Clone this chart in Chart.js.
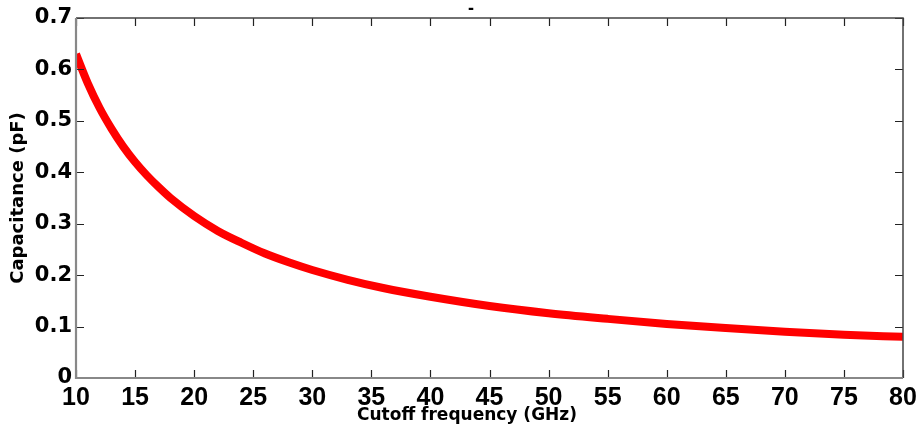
<!DOCTYPE html>
<html>
<head>
<meta charset="utf-8">
<script src="https://cdn.jsdelivr.net/npm/chart.js@4/dist/chart.umd.min.js"></script>
<style>
    body { margin: 0; background: #fff; }
    canvas { display: block; }
</style>
</head>
<body>
<canvas id="cap_chart" width="921" height="440"></canvas>
<script>
// cutoff frequency (GHz) and the matching capacitance (pF)
const freq_ghz = [10, 11, 12, 13, 14, 15, 16, 17, 18, 20, 22, 24, 26, 28, 30,
    33, 36, 40, 45, 50, 55, 60, 65, 70, 75, 80]
const cap_pf = [0.630, 0.573, 0.525, 0.485, 0.450, 0.420, 0.394, 0.371, 0.350,
    0.315, 0.286, 0.263, 0.242, 0.225, 0.210, 0.191, 0.175, 0.158, 0.140,
    0.126, 0.115, 0.105, 0.097, 0.090, 0.084, 0.080]

const PLOT_TITLE = '-'
const X_TITLE = 'Cutoff frequency (GHz)'
const Y_TITLE = 'Capacitance (pF)'

const SANS = '"Liberation Sans", Arial, sans-serif'
const WIDE = '"DejaVu Sans", Verdana, sans-serif'
const TICK_LEN = 8

// box around the plot with inward ticks on all four sides, plus the titles
const frame_plugin = {
    'id': 'frame',
    'afterDraw': function (chart) {
        let ctx = chart.ctx
        let a = chart.chartArea
        let x = chart.scales.x
        let y = chart.scales.y
        ctx.save()
        ctx.strokeStyle = '#222'
        ctx.lineWidth = 1.2
        ctx.beginPath()
        x.ticks.forEach(t => {
            let px = Math.round(x.getPixelForValue(t.value)) + 0.5
            ctx.moveTo(px, a.bottom); ctx.lineTo(px, a.bottom - TICK_LEN)
            ctx.moveTo(px, a.top); ctx.lineTo(px, a.top + TICK_LEN)
        })
        y.ticks.forEach(t => {
            let py = Math.round(y.getPixelForValue(t.value)) + 0.5
            ctx.moveTo(a.left, py); ctx.lineTo(a.left + TICK_LEN, py)
            ctx.moveTo(a.right, py); ctx.lineTo(a.right - TICK_LEN, py)
        })
        ctx.stroke()
        ctx.strokeStyle = '#444'
        ctx.lineWidth = 1.5
        ctx.beginPath()
        ctx.moveTo(a.left, a.top); ctx.lineTo(a.right, a.top); ctx.lineTo(a.right, a.bottom)
        ctx.stroke()
        ctx.strokeStyle = '#888'
        ctx.lineWidth = 2.2
        ctx.beginPath()
        ctx.moveTo(a.left, a.top); ctx.lineTo(a.left, a.bottom); ctx.lineTo(a.right, a.bottom)
        ctx.stroke()

        ctx.fillStyle = '#000'
        ctx.textAlign = 'center'
        ctx.textBaseline = 'alphabetic'
        ctx.font = 'bold 17px ' + WIDE
        ctx.fillText(X_TITLE, 467, 420)
        ctx.font = 'bold 18px ' + SANS
        ctx.textBaseline = 'middle'
        ctx.fillText(PLOT_TITLE, 471, 9)
        ctx.restore()
    }
}

let points = freq_ghz.map((f, i) => ({'x': f, 'y': cap_pf[i]}))

new Chart(document.getElementById('cap_chart').getContext('2d'), {
    'type': 'line',
    'data': {
        'datasets': [{
            'data': points,
            'borderColor': '#ff0000',
            'backgroundColor': '#ff0000',
            'borderWidth': 8,
            'pointRadius': 0,
            'cubicInterpolationMode': 'monotone',
            'borderCapStyle': 'butt'
        }]
    },
    'options': {
        'responsive': false,
        'animation': false,
        'layout': {
            'padding': {'left': 0, 'right': 18, 'top': 18, 'bottom': 0}
        },
        'plugins': {
            'legend': {'display': false},
            'tooltip': {'enabled': false}
        },
        'scales': {
            'x': {
                'type': 'linear',
                'min': 10,
                'max': 80,
                // fixed axis band; labels may hang past the plot edges
                'afterFit': s => { s.height = 62; s.paddingLeft = 0; s.paddingRight = 0 },
                'grid': {'display': false, 'drawTicks': false},
                'border': {'display': false},
                'ticks': {
                    'stepSize': 5,
                    'color': '#000',
                    'padding': 8,
                    'maxRotation': 0,
                    'font': {'family': SANS, 'size': 25, 'weight': 'bold', 'lineHeight': 1}
                }
            },
            'y': {
                'min': 0,
                'max': 0.7,
                'afterFit': s => { s.width = 76; s.paddingTop = 0; s.paddingBottom = 0 },
                'grid': {'display': false, 'drawTicks': false},
                'border': {'display': false},
                'ticks': {
                    'stepSize': 0.1,
                    'color': '#000',
                    'padding': 4,
                    'font': {'family': WIDE, 'size': 21, 'weight': 'bold'},
                    'callback': v => v === 0 ? '0' : v.toFixed(1)
                },
                'title': {
                    'display': true,
                    'text': Y_TITLE,
                    'color': '#000',
                    'font': {'family': WIDE, 'size': 18, 'weight': 'bold'},
                    'padding': {'top': 8, 'bottom': 0}
                }
            }
        }
    },
    'plugins': [frame_plugin]
})
</script>
</body>
</html>
